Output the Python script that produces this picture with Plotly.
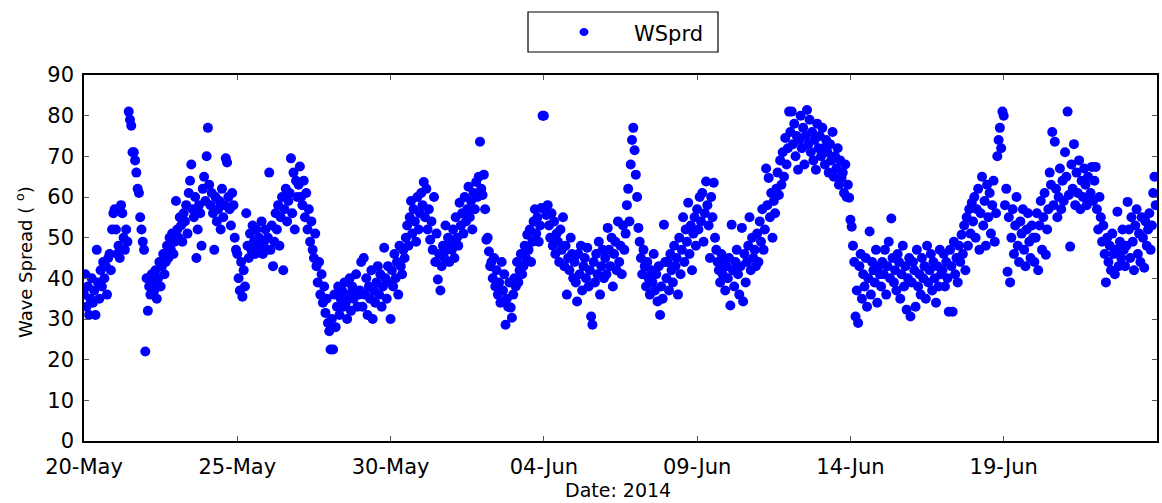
import pandas as pd
import plotly.graph_objects as go

# Hourly wave-spread values (degrees), one list per day
may20 = [36, 41, 33, 38, 31, 35, 40, 34, 37, 31, 47, 39, 35, 42, 38, 44, 40, 43, 36, 45, 46, 42, 52, 56]
may21 = [57, 52, 46, 48, 45, 58, 56, 50, 47, 52, 49, 81, 79, 77.5, 71, 71, 69, 66, 62, 61, 55, 52, 49, 47]
may22 = [22, 40, 32, 38, 36, 41, 39, 37, 42, 35, 40, 44, 38, 43, 46, 41, 44, 48, 45, 50, 47, 51, 46, 49]
may23 = [59, 52, 50, 55, 53, 49, 56, 54, 58, 51, 61, 64, 68, 57, 55, 60, 45, 52, 58, 56, 48, 62, 65, 59]
may24 = [70, 77, 63, 58, 61, 56, 47, 60, 54, 57, 59, 52, 62, 55, 58, 69.5, 68.5, 60, 57, 53, 61, 58, 50, 47]
may25 = [46, 40, 37, 44, 35.5, 42, 38, 56, 48, 45, 51, 47, 53, 49, 46, 52, 48, 50, 47, 54, 46, 49, 52, 47]
may26 = [50, 66, 47, 53, 43, 49, 56, 52, 58, 48, 55, 60, 42, 57, 62, 54, 59, 61, 69.5, 56, 66, 52, 64, 60]
may27 = [63, 67.5, 60, 58, 64, 55, 61, 52, 57, 49, 54, 47, 45, 51, 43, 39, 44, 36, 41, 34, 38, 31.5, 35, 29]
may28 = [27, 22.5, 30, 22.5, 36, 28, 33, 38, 31, 35, 37, 33, 39, 34, 30, 36, 40, 32, 38, 35, 37, 41, 33, 36]
may29 = [37, 44, 33, 45, 36, 40, 31, 38, 35, 42, 30, 37, 34, 39, 43, 36, 41, 33, 38, 47.5, 40, 35, 43, 39]
may30 = [30, 42, 38, 46, 40, 44, 36, 48, 43, 41, 47, 45, 50, 53, 48, 55, 59, 51, 57, 54, 49, 60, 52, 56]
may31 = [61, 58, 63.7, 55, 62, 52, 57, 49.5, 54, 47, 60, 44, 51, 39.7, 46, 37, 43, 48, 45, 53, 47, 50, 44, 49]
jun01 = [47, 52, 45, 55, 50, 48, 58.6, 53, 56, 51, 60, 54, 57, 62.5, 55, 59, 52, 61, 57, 63.7, 60, 65, 73.6, 62]
jun02 = [60.5, 65.5, 57, 49.5, 50, 46.6, 43, 44, 40, 45, 38, 42, 36, 39, 34, 44, 37, 41, 28.6, 35, 33, 39, 32.8, 30.3]
jun03 = [36, 40, 38, 44, 39, 42, 46, 41, 43, 48, 45, 50.7, 47, 52, 44, 49, 54, 57, 51, 55, 49, 53, 57.3, 80]
jun04 = [80, 57, 55.6, 58, 53, 50, 56, 48, 54, 46, 51, 49, 44, 52, 47, 55, 43, 48, 36, 45, 42, 50, 46, 40]
jun05 = [44, 39, 34.3, 46, 41, 48, 37, 43, 45, 40, 47.5, 38, 42, 30.6, 28.6, 44, 39, 46, 41, 49, 36, 43, 47, 40]
jun06 = [45, 41, 52.4, 47, 43, 50, 38, 46, 49, 42, 54, 44, 48, 41, 53, 47, 51, 58, 62, 54, 68, 74, 77, 71.5]
jun07 = [65.5, 60, 52.4, 49, 45, 41, 47, 43, 38, 44, 40, 36, 42, 39, 46, 37, 41, 34.3, 43, 31, 38, 35, 53.2, 44]
jun08 = [40, 44, 37, 46, 42, 39, 48, 43, 45, 36, 50, 41, 47, 55, 44, 52, 49, 58.6, 46, 53, 42, 51, 55, 48]
jun09 = [57, 52, 60, 54, 61, 49, 56, 63.8, 58, 53, 45, 60, 55, 63.5, 50, 47, 44, 42, 39, 46, 41, 44, 37, 43]
jun10 = [40, 45, 33.3, 53.2, 42, 38, 44, 47, 41, 36, 43, 52.4, 34.3, 46, 39, 44, 48, 55, 42, 50, 45, 47, 43, 51]
jun11 = [44, 54, 49, 57, 47, 52, 67, 58, 64.7, 55, 61, 50, 59, 56, 62, 66, 60.5, 69, 63, 71, 65, 74.5, 68, 72]
jun12 = [81, 76, 81, 73, 78, 70, 75, 66.7, 74, 80, 72, 77, 68, 75, 81.4, 73, 79, 71, 76, 69, 74, 66.7, 78, 72]
jun13 = [75, 70, 77, 72, 68, 74, 71, 66, 73, 69, 76, 65, 70, 67, 72, 63, 69, 64.7, 66, 61, 68, 60, 63, 59.8]
jun14 = [54.4, 52.7, 48, 44, 30.6, 37, 29, 43, 46, 35, 41, 38, 45, 33, 40, 51.5, 36, 44, 42, 39, 47, 34, 43, 41]
jun15 = [38, 44, 41, 47, 36, 43, 49, 40, 54.7, 45, 39, 42, 37, 46, 44, 35, 41, 48, 38, 43, 32.3, 40, 45, 30.6]
jun16 = [39, 44, 42, 33, 47, 38, 41, 36, 45, 40, 43, 35, 48, 39, 42, 46, 37, 44, 40, 34, 43, 38, 47, 41]
jun17 = [42, 46, 38, 44, 40, 31.8, 47, 43, 31.8, 49, 41, 45, 39, 48, 44, 50.7, 46, 53, 42, 55, 48, 57, 51, 58.6]
jun18 = [54, 60, 50, 57, 62, 47, 56, 65, 53, 59, 48, 63, 55, 61, 51, 58, 64, 49, 56, 70, 74, 77, 72, 81]
jun19 = [80, 58, 62, 41.6, 55, 39, 50, 57, 46, 53, 60, 48, 44, 54, 51, 57, 47, 43, 52, 56, 49, 45, 53, 50]
jun20 = [44, 50, 56, 42, 53, 59, 47, 55, 61, 45.8, 52, 57, 66, 63, 76, 58, 73.6, 62, 55, 60, 67, 57, 64, 59]
jun21 = [71, 65, 81, 60.5, 47.8, 68, 62, 73, 58, 66, 61, 69, 57, 64, 60, 67, 63, 58, 65, 60, 61, 67.4, 59, 64]
jun22 = [67.4, 57, 52, 60, 55, 49, 53, 46, 39, 50, 44, 48, 42, 51, 46, 41, 47, 56.4, 43, 49, 45, 52, 47, 43]
jun23 = [48, 58.8, 52, 45, 55, 49, 42, 53, 57, 46, 51, 44, 55, 50, 42.6, 54, 48, 52, 56, 47, 53, 61, 65, 58]

day_series = [may20, may21, may22, may23, may24, may25, may26, may27, may28, may29,
              may30, may31, jun01, jun02, jun03, jun04, jun05, jun06, jun07, jun08,
              jun09, jun10, jun11, jun12, jun13, jun14, jun15, jun16, jun17, jun18,
              jun19, jun20, jun21, jun22, jun23]
start_day = "2014-05-20"
end_day = "2014-06-24"

tick_dates = ["2014-05-20", "2014-05-25", "2014-05-30", "2014-06-04",
              "2014-06-09", "2014-06-14", "2014-06-19"]
tick_labels = ["20-May", "25-May", "30-May", "04-Jun", "09-Jun", "14-Jun", "19-Jun"]
y_ticks = [0, 10, 20, 30, 40, 50, 60, 70, 80, 90]

series_name = "WSprd"
x_title = "Date: 2014"
y_title = "Wave Spread ( <sup>o</sup>)"

# build timestamps: samples spread evenly through each day
t0 = pd.Timestamp(start_day)
xs, ys = [], []
for d, vals in enumerate(day_series):
    n = len(vals)
    for i, v in enumerate(vals):
        xs.append(t0 + pd.Timedelta(days=d) + pd.Timedelta(hours=24.0 * i / n))
        ys.append(v)

W, H = 1162, 503
ML, MR, MT, MB = 84, 5, 75, 62
PW, PH = W - ML - MR, H - MT - MB


def px_x(p):
    return (p - ML) / PW


def px_y(p):
    return (H - MB - p) / PH


FONT = "DejaVu Sans"

fig = go.Figure()
fig.add_trace(go.Scatter(
    x=xs, y=ys, mode="markers", name=series_name, showlegend=False,
    marker=dict(color="#0000FF", size=10, line=dict(width=0)),
))

axis_common = dict(
    showline=True, linecolor="black", linewidth=1.5, mirror="allticks",
    ticks="inside", ticklen=5, tickcolor="#555555", tickwidth=1,
    showgrid=False, zeroline=False,
    tickfont=dict(family=FONT, size=21, color="black"),
)

fig.update_layout(
    width=W, height=H,
    margin=dict(l=ML, r=MR, t=MT, b=MB, autoexpand=False),
    paper_bgcolor="white", plot_bgcolor="white",
    showlegend=False,
    xaxis=dict(type="date", range=[start_day, end_day], tickvals=tick_dates,
               ticktext=tick_labels, ticklabelstandoff=6, automargin=False, **axis_common),
    yaxis=dict(range=[0, 90], tickvals=y_ticks, ticklabelstandoff=4, automargin=False, **axis_common),
)

# legend box drawn manually
fig.add_shape(type="rect", xref="paper", yref="paper",
              x0=px_x(528), x1=px_x(718), y0=px_y(52), y1=px_y(12),
              line=dict(color="black", width=1.2), fillcolor="white", layer="above")
fig.add_shape(type="circle", xref="paper", yref="paper",
              x0=px_x(579.5), x1=px_x(588.5), y0=px_y(36), y1=px_y(28),
              line=dict(width=0), fillcolor="#0000FF", layer="above")
fig.add_annotation(text=series_name, xref="paper", yref="paper",
                   x=px_x(632), y=px_y(34), xanchor="left", yanchor="middle",
                   showarrow=False, font=dict(family=FONT, size=21, color="black"))

# axis titles
fig.add_annotation(text=x_title, xref="paper", yref="paper",
                   x=px_x(618), y=px_y(490), xanchor="center", yanchor="middle",
                   showarrow=False, font=dict(family=FONT, size=19, color="black"))
fig.add_annotation(text=y_title, xref="paper", yref="paper",
                   x=px_x(24), y=px_y(262), xanchor="center", yanchor="middle",
                   textangle=-90, showarrow=False,
                   font=dict(family=FONT, size=18, color="black"))

fig.write_html("out.html",
               config={"displayModeBar": False},
               post_script="document.body.style.margin='0';document.body.style.padding='0';")
